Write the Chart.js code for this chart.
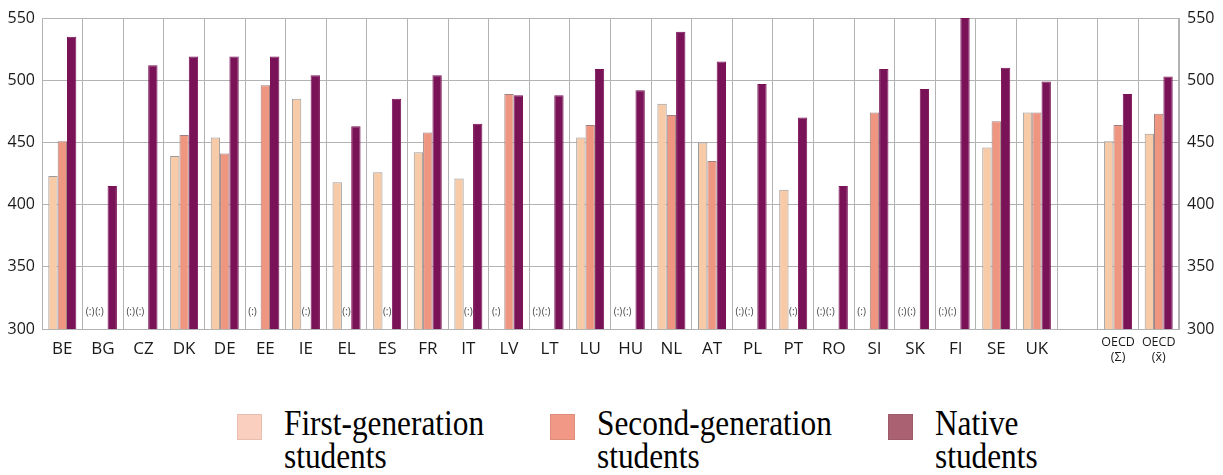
<!DOCTYPE html>
<html><head><meta charset="utf-8">
<script src="https://cdn.jsdelivr.net/npm/chart.js@4.4.1/dist/chart.umd.min.js"></script>
<style>
html,body{margin:0;padding:0;background:#fff;}
#wrap{position:relative;width:1223px;height:475px;overflow:hidden;background:#fff;}
#cw{position:absolute;left:0;top:0;width:1223px;height:375px;}
.sw{position:absolute;width:25px;height:26px;top:414px;box-sizing:border-box;border:1px solid rgba(0,0,0,0.08);}
.lt{position:absolute;top:407px;font-family:'Liberation Serif','Times New Roman',serif;font-size:35px;line-height:33px;color:#000;white-space:nowrap;transform:scaleX(0.895);transform-origin:0 0;}
</style></head><body>
<div id="wrap"><div id="cw"><canvas id="c"></canvas></div><div id="legend"></div></div>
<script>
const categories = ['BE','BG','CZ','DK','DE','EE','IE','EL','ES','FR','IT','LV','LT','LU','HU','NL','AT','PL','PT','RO','SI','SK','FI','SE','UK','',['OECD','(Σ)'],['OECD','(x̄)']];
const firstGen  = [423,null,null,439,454,null,485,418,426,442,421,null,null,454,null,481,450,null,412,null,null,null,null,446,474,null,451,457];
const secondGen = [451,null,null,456,441,496,null,null,null,458,null,489,null,464,null,472,435,null,null,null,474,null,null,467,474,null,464,473];
const natives   = [535,415,512,519,519,519,504,463,485,504,465,488,488,509,492,539,515,497,470,415,509,493,550,510,499,null,489,503];
const seriesLabels = ['First-generation students','Second-generation students','Native students'];
const yMin = 300, yMax = 550, yStep = 50;

const barColors = ['#f7caa8','#ef9681','#7a1257'];
const barBorders = ['#9c9c9c','#a08080','#7a1257'];
const legendColors = ['#fbcfc0','#f19986','#aa6272'];
const legendLeft = [237,550,888];
const gridColor = '#b3b3b3';

const missingPlugin = {
  id: 'missing',
  afterDatasetsDraw(chart) {
    const ctx = chart.ctx;
    const nat = chart.data.datasets[2].data;
    ctx.save();
    ctx.font = '10px "Open Sans"';
    ctx.fillStyle = '#444';
    ctx.textAlign = 'center';
    ctx.textBaseline = 'middle';
    const y = chart.chartArea.bottom - 17;
    for (let d = 0; d < 2; d++) {
      const meta = chart.getDatasetMeta(d);
      const data = chart.data.datasets[d].data;
      data.forEach((v, i) => {
        if (v !== null || nat[i] === null) return;
        const el = meta.data[i];
        let x = el && isFinite(el.x) ? el.x : null;
        if (x === null) return;
        const pair = chart.data.datasets[0].data[i] === null && chart.data.datasets[1].data[i] === null;
        const off = (d === 0 || pair) ? -3.5 : 0;
        ctx.fillText('(:)', x + off, y);
      });
    }
    ctx.restore();
  }
};

const chart = new Chart(document.getElementById('c'), {
  type: 'bar',
  data: {
    labels: categories,
    datasets: [firstGen, secondGen, natives].map((arr, k) => ({
      label: seriesLabels[k],
      data: arr,
      backgroundColor: barColors[k],
      borderColor: barBorders[k],
      borderWidth: 1,
      borderSkipped: false,
      categoryPercentage: 0.69,
      barPercentage: 1.0
    }))
  },
  options: {
    responsive: true,
    maintainAspectRatio: false,
    animation: false,
    layout: { padding: { top: 18, left: 0, right: 0, bottom: 0 } },
    plugins: { legend: { display: false }, tooltip: { enabled: false } },
    scales: {
      x: {
        grid: { offset: true, color: gridColor, drawTicks: false, lineWidth: 1 },
        border: { color: gridColor },
        ticks: {
          padding: 6,
          color: '#1a1a1a',
          autoSkip: false,
          maxRotation: 0,
          font: (c) => (c.index >= 26 ? { family: 'Open Sans', size: 12.5, lineHeight: '15px' } : { family: 'Open Sans', size: 17, lineHeight: '28px' })
        },
        afterFit: (s) => { s.height = 46; }
      },
      y: {
        min: yMin, max: yMax,
        position: 'left',
        grid: { color: gridColor, drawTicks: false },
        border: { color: gridColor },
        ticks: { stepSize: yStep, padding: 7, color: '#1a1a1a', font: { family: 'Open Sans', size: 16 } },
        afterFit: (s) => { s.width = 42; }
      },
      y2: {
        min: yMin, max: yMax,
        position: 'right',
        grid: { drawOnChartArea: false, drawTicks: false },
        border: { color: gridColor },
        ticks: { stepSize: yStep, padding: 8, color: '#1a1a1a', font: { family: 'Open Sans', size: 16 } },
        afterFit: (s) => { s.width = 44; }
      }
    }
  },
  plugins: [missingPlugin]
});

// HTML legend built from the chart's datasets
(function buildLegend() {
  const lg = document.getElementById('legend');
  chart.data.datasets.forEach((ds, k) => {
    const sw = document.createElement('div');
    sw.className = 'sw';
    sw.style.left = legendLeft[k] + 'px';
    sw.style.background = legendColors[k];
    lg.appendChild(sw);
    const t = document.createElement('div');
    t.className = 'lt';
    t.style.left = (legendLeft[k] + 47) + 'px';
    const sp = ds.label.indexOf(' ');
    t.innerHTML = ds.label.slice(0, sp) + '<br>' + ds.label.slice(sp + 1);
    lg.appendChild(t);
  });
})();
</script>
</body></html>
